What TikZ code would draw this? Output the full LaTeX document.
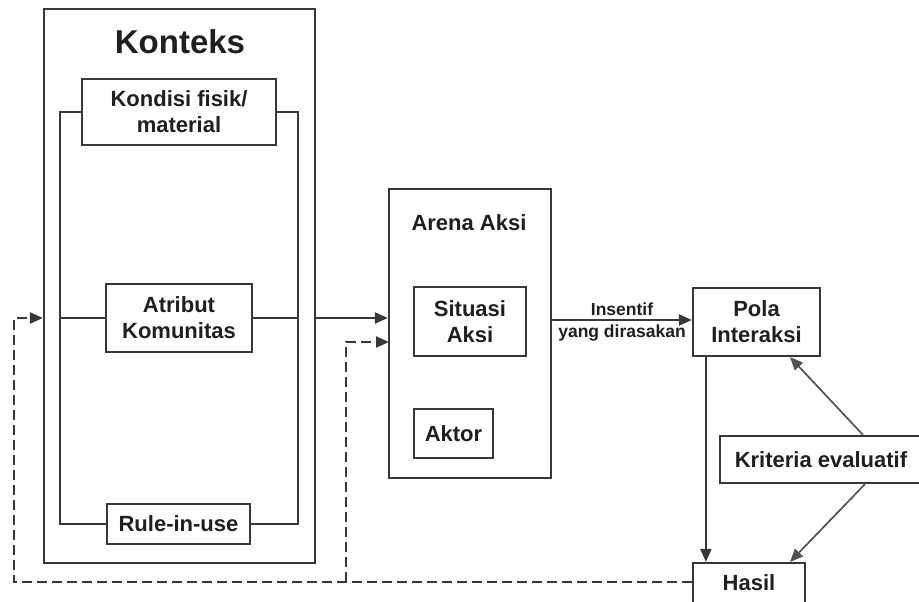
\documentclass[tikz,border=0pt]{standalone}
\usepackage{fontspec}
\setmainfont{Liberation Sans}
\usetikzlibrary{arrows.meta}
\begin{document}
\begin{tikzpicture}[x=1pt, y=-1pt,
  kotak/.style={draw=black!78, line width=2.2pt, inner sep=0pt, align=center,
    text=black!88, font=\fontsize{22}{26}\selectfont\bfseries},
  judul/.style={inner sep=0pt, text=black!88, font=\fontsize{22}{26}\selectfont\bfseries},
  garis/.style={draw=black!78, line width=2.2pt},
  panah/.style={garis, -{Triangle[length=13pt,width=11pt]}},
  balikan/.style={panah, dash pattern=on 10pt off 5pt}]
\useasboundingbox (0,0) rectangle (919,602);
\clip (0,0) rectangle (919,602);

% konteks
\node[kotak, minimum width=271, minimum height=554] (konteks) at (179.5,286) {};
\node[judul, font=\fontsize{33}{36}\selectfont\bfseries] (jkonteks) at (180,42) {Konteks};
\node[kotak, minimum width=194, minimum height=66] (kondisi) at (179,112) {Kondisi fisik/\\material};
\node[kotak, minimum width=146, minimum height=68] (atribut) at (179,318) {Atribut\\Komunitas};
\node[kotak, minimum width=143, minimum height=40] (rule) at (178.5,524) {Rule-in-use};
\draw[garis] (kondisi.west) -- ++(-21,0) |- (rule.west);
\draw[garis] (kondisi.east) -- ++(21,0) |- (rule.east);
\draw[garis] (atribut.west) -- ++(-45,0);
\draw[garis] (atribut.east) -- ++(45,0);

% arena aksi
\node[kotak, minimum width=162, minimum height=289] (arena) at (470,333.5) {};
\node[judul] (jarena) at (469,223) {Arena Aksi};
\node[kotak, minimum width=112, minimum height=69] (situasi) at (470,321.5) {Situasi\\Aksi};
\node[kotak, minimum width=79, minimum height=49] (aktor) at (453.5,433.5) {Aktor};

% hasil
\node[kotak, minimum width=127, minimum height=68] (pola) at (756.5,322) {Pola\\Interaksi};
\node[kotak, minimum width=202, minimum height=47] (kriteria) at (821,459.5) {Kriteria evaluatif};
\node[kotak, minimum width=112, minimum height=40] (hasil) at (749,583) {Hasil};

\coordinate (kiri) at (14,582);
\coordinate (cabang) at (346,582);
\coordinate (masuk) at (389,342);

\draw[panah] (konteks.east |- atribut) -- (arena.west |- atribut);
\draw[panah] (arena.east |- 0,320) -- (pola.west |- 0,320)
  node[midway, above=0pt, font=\fontsize{17.5}{19}\selectfont\bfseries, text=black!88] (insentif) {Insentif}
  node[midway, below=0pt, font=\fontsize{17.5}{19}\selectfont\bfseries, text=black!88] (dirasakan) {yang dirasakan};
\draw[panah] ([xshift=14pt]pola.south west) -- ([xshift=14pt]pola.south west |- hasil.north);
\draw[panah, line width=1.7pt, draw=black!68] ([xshift=42pt]kriteria.north) -- ([xshift=33.5pt]pola.south);
\draw[panah, line width=1.7pt, draw=black!68] ([xshift=44pt]kriteria.south) -- ([xshift=41pt]hasil.north);

% umpan balik
\draw[balikan] (hasil.west |- kiri) -- (kiri) |- (konteks.west |- atribut);
\draw[balikan] (cabang) |- (masuk);
\end{tikzpicture}
\end{document}
